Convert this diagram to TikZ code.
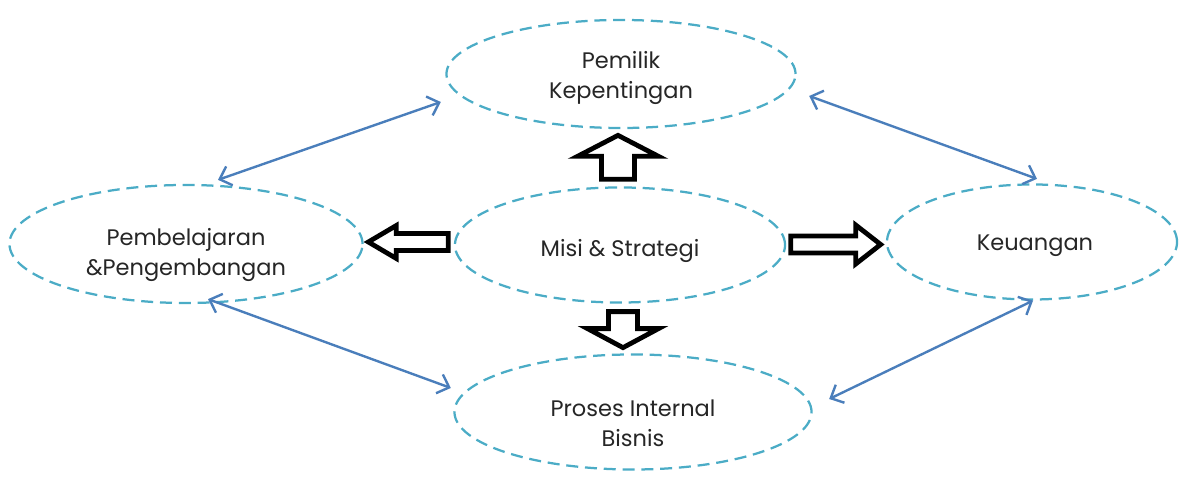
\documentclass[tikz,border=0pt]{standalone}
\usepackage{fontspec}
\setmainfont{Poppins}
\usepackage{xcolor}
\definecolor{DashTeal}{HTML}{4BACC6}
\definecolor{LinkBlue}{HTML}{4A7EBB}
\usepackage{tikz}
\usetikzlibrary{arrows.meta,positioning,shapes.geometric,calc}

% hollow block arrow: start, angle, length, shaft half width, head half width, head length
\newcommand{\hollowarrow}[6]{%
\begin{scope}[shift={#1},rotate=#2]
\draw[blockarr] (0,-#4) -- ({#3-#6},-#4) -- ({#3-#6},-#5) -- (#3,0) -- ({#3-#6},#5) -- ({#3-#6},#4) -- (0,#4) -- cycle;
\end{scope}}

\begin{document}
\begin{tikzpicture}[x=0.025cm,y=0.025cm, every node/.style={font=\fontsize{16}{21}\selectfont},
  oval/.style={ellipse,draw=DashTeal,line width=1.6pt,dash pattern=on 0.3cm off 0.17cm,inner sep=0pt},
  txt/.style={align=center,text=black!85},
  link/.style={{Straight Barb[length=2.6mm,width=5mm]}-{Straight Barb[length=2.6mm,width=5mm]},draw=LinkBlue,line width=1.7pt},
  blockarr/.style={draw=black,fill=white,line width=3.4pt,line join=miter}]
\useasboundingbox (0,0) rectangle (1179,477);
\node[oval,minimum width=8.725cm,minimum height=2.7cm] (pemilik) at (621,403) {};
\node[oval,minimum width=8.825cm,minimum height=2.95cm] (belajar) at (186,233) {};
\node[oval,minimum width=8.25cm,minimum height=2.875cm] (misi) at (620,232) {};
\node[oval,minimum width=7.25cm,minimum height=2.875cm] (uang) at (1032,235) {};
\node[oval,minimum width=8.925cm,minimum height=2.875cm] (proses) at (633,65) {};
\node[txt] (pemilik-t) at ([yshift=-3]pemilik.center) {Pemilik\\Kepentingan};
\node[txt] (belajar-t) at ([yshift=-8]belajar.center) {Pembelajaran\\\&Pengembangan};
\node[txt] (misi-t) at ([yshift=-4]misi.center) {Misi \& Strategi};
\node[txt] (uang-t) at ([shift={(3,-4)}]uang.center) {Keuangan};
\node[txt] (proses-t) at ([yshift=-8]proses.center) {Proses Internal\\Bisnis};

\coordinate (b1) at ([shift={(32,4)}]belajar.north);
\coordinate (p1) at ([shift={(-4.5,-28)}]pemilik.west);
\coordinate (p2) at ([shift={(12.5,-22)}]pemilik.east);
\coordinate (u1) at ([shift={(5,4.5)}]uang.north);
\coordinate (b2) at ([shift={(22,5)}]belajar.south);
\coordinate (r1) at ([shift={(-2.5,24)}]proses.west);
\coordinate (r2) at ([shift={(16.5,13)}]proses.east);
\coordinate (u2) at ([shift={(1,0)}]uang.south);
\draw[link] (b1) -- (p1);
\draw[link] (p2) -- (u1);
\draw[link] (b2) -- (r1);
\draw[link] (r2) -- (u2);

\hollowarrow{($(misi.north)+(-2,7)$)}{90}{44}{16.5}{40.5}{21}
\hollowarrow{($(misi.west)+(-5.5,3)$)}{180}{80}{8.5}{16.5}{28}
\hollowarrow{($(misi.east)+(4.5,0.5)$)}{0}{90}{8.5}{19.5}{25}
\hollowarrow{($(misi.south)+(3,-8)$)}{-90}{36}{14.5}{35.5}{19}
\end{tikzpicture}
\end{document}
